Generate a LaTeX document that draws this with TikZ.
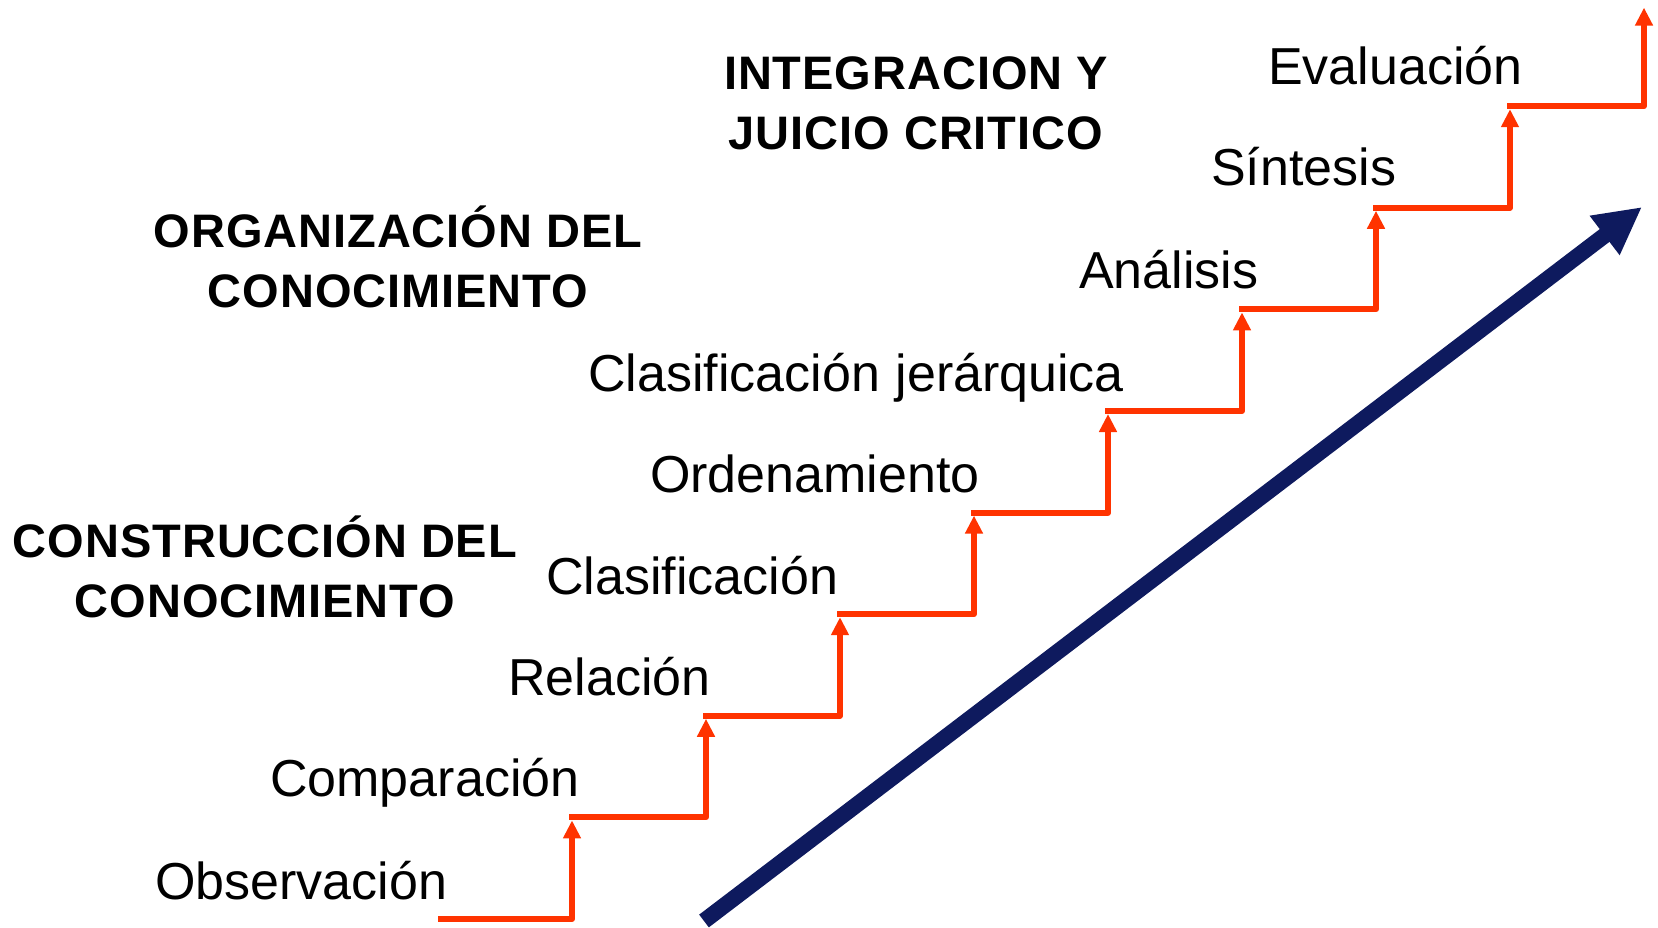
\documentclass[tikz,border=0pt]{standalone}
\usepackage{fontspec}
\setmainfont{Liberation Sans}
\usetikzlibrary{arrows.meta}
\definecolor{escalon}{RGB}{255,51,0}
\definecolor{marino}{RGB}{14,26,94}
\begin{document}
\begin{tikzpicture}[line join=round, line cap=round, >=stealth, x=1pt, y=-1pt,
        declare function={px(\k)=572+134*\k; py(\k)=919-101.6*\k;},
        paso/.style={line width=6pt, escalon, line cap=rect, -{Triangle[width=17pt,length=18pt]}},
        etapa/.style={inner sep=0pt, anchor=base west, font=\fontsize{52}{60}\selectfont},
        nivel/.style={inner sep=0pt, anchor=base, align=center, font=\fontsize{47}{60}\selectfont\bfseries\addfontfeatures{LetterSpace=2}}
        ]
        \useasboundingbox (0,0) rectangle (1658,928);
        %Esquinas de la escalera
        \foreach \k in {0,...,8}{
            \coordinate (s\k) at ({px(\k)},{py(\k)});
            \coordinate (t\k) at ({px(\k)},{py(\k)-98.6});
        }
        \coordinate (inicio) at (441,919);
        \draw[paso] (inicio) -- (s0) -- (t0);
        \foreach \k [evaluate=\k as \j using int(\k-1)] in {1,...,8}
        \draw[paso] (t\j |- s\k) -- (s\k) -- (t\k);
        %Flecha grande
        \coordinate (flechaini) at (704,921);
        \coordinate (flechafin) at (1642,207);
        \draw[marino, line width=16pt, line cap=butt, -{Triangle[width=46pt,length=47pt]}] (flechaini) -- (flechafin);
        \node[etapa] (obs) at (155,899) {Observación};
        \node[etapa] (comp) at (270,796) {Comparación};
        \node[etapa] (rel) at (508,695) {Relación};
        \node[etapa] (clas) at (546,594) {Clasificación};
        \node[etapa] (orden) at (650,492) {Ordenamiento};
        \node[etapa] (jer) at (588,391) {Clasificación\hspace{0.3em}jerárquica};
        \node[etapa] (anal) at (1079,288) {Análisis};
        \node[etapa] (sint) at (1211,186) {Síntesis};
        \node[etapa] (eval) at (1268,85) {Evaluación};
        \node[nivel] (constr) at (265,617) {CONSTRUCCIÓN DEL\\CONOCIMIENTO};
        \node[nivel] (organ) at (398,307) {ORGANIZACIÓN DEL\\CONOCIMIENTO};
        \node[nivel] (integ) at (916,150) {INTEGRACION Y\\JUICIO CRITICO};
\end{tikzpicture}
\end{document}
